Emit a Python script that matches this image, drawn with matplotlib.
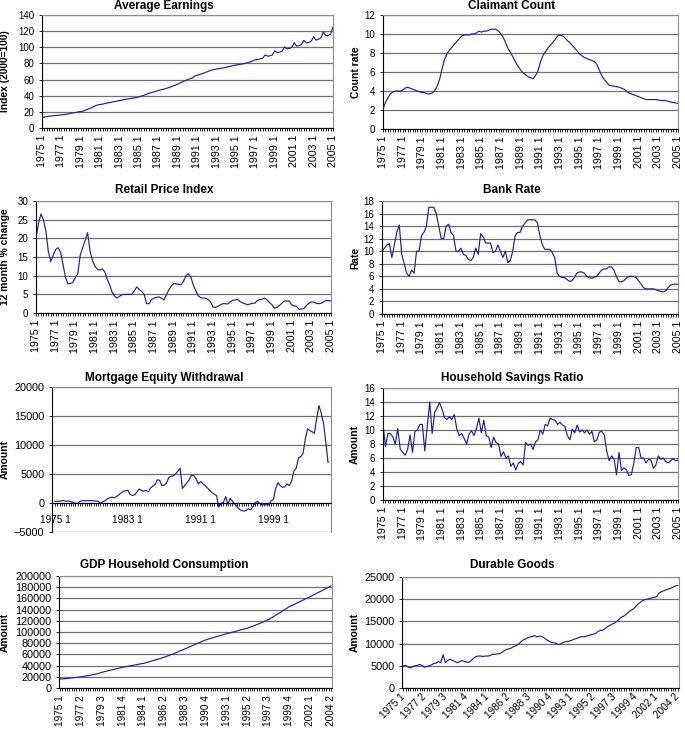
import numpy as np
import matplotlib
matplotlib.use('Agg')
import matplotlib.pyplot as plt
from matplotlib.ticker import MultipleLocator

plt.rcParams['font.family'] = ['Liberation Sans', 'DejaVu Sans']

# quarterly categories 1975 Q1 .. 2005 Q1
quarters = [f"{y} {q}" for y in range(1975, 2006) for q in range(1, 5)][:121]

# Average earnings, index 2000=100
earnings = [
    12.5, 13.5, 14.2, 14.6,  15.0, 15.3, 15.6, 16.0,  16.3, 16.6, 17.0, 17.5,
    18.2, 18.8, 19.4, 20.0,  20.4, 21.0, 22.2, 23.5,  24.6, 26.0, 27.5, 28.6,
    29.2, 29.6, 30.3, 31.0,  31.6, 32.2, 32.8, 33.4,  34.0, 34.6, 35.2, 35.8,
    36.3, 36.8, 37.2, 37.8,  38.6, 39.6, 40.6, 41.6,  43.0, 43.8, 44.6, 45.5,
    46.5, 47.3, 48.0, 48.8,  49.8, 50.9, 52.0, 53.2,  54.5, 55.8, 57.2, 58.6,
    60.0, 61.0, 62.0, 64.5,  65.3, 66.3, 67.3, 68.3,  69.5, 70.8, 71.8, 72.6,
    73.1, 73.6, 74.1, 74.6,  75.3, 76.0, 76.7, 77.4,  78.0, 78.6, 79.0, 79.5,
    80.4, 81.2, 82.0, 83.4,  84.5, 84.8, 85.5, 86.5,  90.5, 89.0, 89.5, 90.5,
    95.5, 93.5, 94.0, 95.0,  100.5, 98.0, 98.5, 100.0,  105.5, 101.5, 102.0, 103.5,
    108.5, 105.5, 106.0, 107.5,  113.0, 109.0, 110.0, 111.5,  119.0, 114.5, 114.5, 116.5,
    125.0]

# Claimant count rate
claimant = [
    2.1, 2.8, 3.3, 3.7,  3.9, 4.0, 4.0, 4.0,  4.1, 4.3, 4.4, 4.3,
    4.2, 4.1, 4.0, 3.9,  3.85, 3.8, 3.7, 3.7,  3.8, 4.0, 4.5, 5.2,
    6.3, 7.3, 7.9, 8.3,  8.6, 8.9, 9.2, 9.5,  9.8, 9.9, 9.9, 9.9,
    10.0, 10.0, 10.1, 10.3,  10.2, 10.3, 10.3, 10.4,  10.5, 10.5, 10.5, 10.3,
    10.0, 9.6, 9.0, 8.4,  8.0, 7.5, 7.0, 6.6,  6.2, 5.9, 5.7, 5.5,
    5.4, 5.3, 5.6, 6.1,  7.0, 7.7, 8.1, 8.5,  8.8, 9.1, 9.4, 9.8,
    9.9, 9.8, 9.6, 9.3,  9.1, 8.8, 8.5, 8.2,  7.9, 7.7, 7.5, 7.4,
    7.3, 7.2, 7.1, 6.8,  6.2, 5.6, 5.2, 4.9,  4.6, 4.55, 4.5, 4.45,
    4.4, 4.3, 4.2, 4.0,  3.8, 3.7, 3.6, 3.5,  3.4, 3.3, 3.2, 3.1,
    3.1, 3.1, 3.1, 3.1,  3.05, 3.0, 3.0, 3.0,  2.9, 2.85, 2.8, 2.75,
    2.7]

# Retail price index, 12 month % change
rpi = [
    20, 24, 26.5, 25, 22, 16.5, 13.8, 15.5, 17, 17.5,
    16.2, 13, 9.5, 7.8, 7.9, 8.2, 9.5, 10.5, 15.5, 17.5,
    19.5, 21.5, 16.5, 14, 12.5, 11.7, 11.5, 11.8, 11, 9,
    7.5, 5.5, 4.5, 4, 4.5, 4.9, 5, 5, 5, 5,
    6, 7, 6.3, 5.8, 5, 2.5, 2.5, 3.6, 4, 4.2,
    4.3, 4, 3.5, 4.8, 6.2, 7.2, 7.9, 7.8, 7.7, 7.6,
    8.5, 10, 10.5, 9.6, 7.5, 6, 4.6, 4.1, 4, 4,
    3.6, 3.0, 1.6, 1.5, 1.8, 2.2, 2.5, 2.5, 2.4, 3,
    3.4, 3.5, 3.6, 3.1, 2.7, 2.5, 2.2, 2.4, 2.6, 2.6,
    3.3, 3.6, 3.7, 4, 3.5, 2.8, 2.2, 1.3, 1.5, 2,
    2.6, 3.2, 3.2, 3.2, 2.2, 1.9, 1.8, 1, 1.1, 1.2,
    2.0, 2.6, 3, 2.9, 2.6, 2.5, 2.6, 3.0, 3.4, 3.3,
    3.2]

# Bank rate
bank_rate = [
    10.0, 10.5, 11.0, 11.2,  9.0, 11.0, 13.0, 14.2,  9.5, 8.0, 6.5, 6.0,
    7.0, 6.5, 10.0, 10.0,  12.5, 13.0, 14.0, 17.0,  17.0, 17.0, 16.0, 14.0,
    12.0, 12.0, 14.0, 14.3,  13.0, 12.5, 10.0, 10.0,  10.5, 9.5, 9.3, 8.7,
    8.5, 9.0, 10.5, 9.5,  12.8, 12.3, 11.3, 11.3,  11.3, 9.8, 10.0, 11.0,
    10.0, 9.0, 10.0, 8.2,  8.5, 10.0, 12.5, 13.0,  13.0, 14.0, 14.5, 15.0,
    15.0, 15.0, 15.0, 14.5,  12.5, 11.0, 10.3, 10.3,  10.3, 9.8, 9.0, 6.5,
    6.0, 5.8, 5.8, 5.5,  5.2, 5.3, 5.8, 6.5,  6.7, 6.7, 6.5, 6.0,
    5.8, 5.7, 5.8, 6.0,  6.5, 7.0, 7.2, 7.2,  7.5, 7.5, 7.0, 6.0,
    5.2, 5.1, 5.3, 5.7,  6.0, 6.0, 6.0, 5.8,  5.3, 4.8, 4.2, 4.0,
    4.0, 4.0, 4.0, 3.9,  3.7, 3.6, 3.5, 3.7,  4.2, 4.6, 4.75, 4.75,
    4.75]

# Mortgage equity withdrawal
mew = [
    300, 300, 300, 400, 400, 300, 350, 200, 100, 0,
    -100, 300, 400, 400, 400, 400, 400, 400, 350, 300,
    -100, 200, 400, 700, 900, 1000, 900, 1100, 1400, 1700,
    2000, 2100, 2200, 1500, 1300, 1400, 1900, 2400, 2200, 2000,
    2200, 1900, 2600, 2900, 3200, 4000, 3900, 3000, 3100, 3400,
    4400, 4600, 4700, 5000, 5500, 6000, 2500, 3000, 3500, 4000,
    4800, 4700, 4200, 3300, 3700, 3300, 3000, 2600, 2200, 1800,
    1500, 1300, -700, -100, 100, 1100, -200, 800, 300, -200,
    -600, -1100, -1300, -1400, -1300, -1000, -1200, -600, 0, 300,
    -100, -300, -300, -300, -300, 400, 600, 2500, 3500, 3000,
    2700, 2800, 3300, 3000, 3800, 5500, 6000, 7800, 8000, 8500,
    11000, 12800, 12500, 12300, 12000, 14500, 16800, 15500, 13800, 10500,
    7000]

# Household savings ratio
savings = [
    10.8, 7.6, 9.5, 9.5, 9.0, 8.0, 10.2, 7.3, 6.8, 6.4,
    7.2, 9.3, 6.8, 9.8, 10.0, 10.8, 10.8, 7.0, 10.5, 14.0,
    9.5, 12.5, 13.2, 13.9, 13.0, 11.8, 11.5, 11.9, 11.5, 12.2,
    10.2, 9.2, 9.5, 8.8, 8.0, 9.4, 9.9, 9.2, 10.2, 11.7,
    9.6, 11.4, 9.2, 9.0, 7.5, 9.0, 8.2, 8.0, 6.2, 6.9,
    6.0, 6.3, 4.8, 5.3, 4.3, 5.2, 5.5, 5.0, 8.2, 7.8,
    8.0, 7.2, 8.3, 8.6, 10.0, 9.4, 10.8, 10.6, 11.7, 11.5,
    11.4, 10.8, 11.1, 10.7, 10.5, 9.2, 8.6, 10.1, 9.6, 10.7,
    9.7, 10.0, 9.6, 10.0, 9.4, 9.8, 8.3, 8.6, 9.7, 9.8,
    9.3, 7.0, 5.6, 6.3, 5.8, 3.6, 6.8, 4.2, 4.6, 4.3,
    3.5, 3.6, 5.2, 7.5, 7.5, 6.0, 6.0, 5.3, 5.8, 5.7,
    4.5, 5.0, 6.3, 5.8, 6.0, 5.5, 5.3, 5.6, 5.9, 5.6,
    5.7]

# GDP household consumption, 1975 Q1 .. 2004 Q2
gdp_consumption = [
    16000, 16300, 16700, 17100, 17500, 18000, 18500, 19000, 19500,
    20000, 20600, 21300, 22000, 22800, 23600, 24400, 25300, 26600,
    28000, 29000, 30000, 31000, 32000, 33000, 34000, 35000, 36000,
    37000, 37800, 38600, 39400, 40100, 40900, 41700, 42500, 43200,
    44000, 45100, 46300, 47500, 48700, 49900, 51100, 52400, 53700,
    55000, 56500, 58000, 59600, 61200, 62900, 64700, 66500, 68300,
    70000, 71800, 73600, 75400, 77200, 79000, 80800, 82600, 84400,
    86000, 87300, 88500, 89700, 90900, 92100, 93300, 94500, 95800,
    97000, 98100, 99200, 100300, 101400, 102500, 103700, 104800, 105900,
    107000, 108500, 110000, 111600, 113200, 114900, 116600, 118400, 120200,
    122000, 124500, 127000, 129500, 132000, 134500, 137200, 139900, 142500,
    145000, 147000, 149000, 151000, 153000, 155000, 157000, 159000, 161000,
    163000, 165100, 167200, 169300, 171400, 173500, 175700, 177800, 179900,
    182000]

# Durable goods, 1975 Q1 .. 2004 Q2
durables = [
    5000, 5100, 4800, 4500, 4800, 5000, 5100, 5300, 5100, 4700,
    4800, 5000, 5200, 5500, 5600, 6000, 5700, 7500, 5700, 6200,
    6500, 6200, 6000, 5700, 5900, 6200, 6000, 5800, 5800, 6200,
    6700, 7100, 7200, 7200, 7100, 7200, 7200, 7300, 7600, 7600,
    7700, 7700, 8000, 8400, 8700, 8800, 9000, 9300, 9500, 9800,
    10300, 10800, 11000, 11300, 11500, 11600, 11800, 11500, 11700, 11600,
    11300, 10900, 10600, 10300, 10200, 10100, 9800, 9900, 10200, 10400,
    10500, 10600, 10800, 11000, 11200, 11400, 11600, 11500, 11700, 11800,
    12000, 12100, 12300, 12700, 13000, 13000, 13400, 13800, 14100, 14400,
    14600, 15000, 15500, 16000, 16200, 16600, 17100, 17500, 17800, 18300,
    18900, 19300, 19700, 19900, 20000, 20200, 20300, 20400, 20600, 21400,
    21700, 21900, 22100, 22300, 22500, 22700, 23000, 23100]

LINE = '#1f1f9e'
GRID = '#707070'
FRAME = '#8c8c8c'

W, H = 685, 729
fig = plt.figure(figsize=(W / 100, H / 100), dpi=100)


def box(l, t, r, b):
    # pixel box -> figure fraction rect
    return [l / W, 1 - b / H, (r - l) / W, (b - t) / H]


def draw_panel(px, values, title, title_xy, ylabel, ylabel_x, ylim, ystep,
               ysize, step, xsize, xlim, rotation=90, zero_axis=False):
    ax = fig.add_axes(box(*px))
    if zero_axis:
        # category axis crosses the value axis at 0 (set before labelling,
        # moving a spine rebuilds the ticks)
        ax.spines['bottom'].set_position(('data', 0))
    x = np.arange(len(values))
    ax.plot(x, values, color=LINE, lw=0.85)
    ax.set_xlim(*xlim)
    ax.set_ylim(*ylim)
    ax.yaxis.set_major_locator(MultipleLocator(ystep))
    ax.yaxis.grid(True, color=GRID, lw=0.9)
    ax.set_axisbelow(True)

    labels = quarters[:len(values)]
    ax.set_xticks(x[::step])
    if rotation == 45:
        ax.set_xticklabels(labels[::step], rotation=45, ha='right',
                           va='center', rotation_mode='anchor')
    else:
        ax.set_xticklabels(labels[::step], rotation=rotation)
    ax.set_xticks(x, minor=True)
    ax.tick_params(axis='x', which='both', length=2.5, width=0.6,
                   pad=6 if zero_axis else 2.5, labelsize=xsize)
    ax.tick_params(axis='y', length=2.5, width=0.6, labelsize=ysize, pad=3)

    for s in ('top', 'right'):
        ax.spines[s].set_color(FRAME)
    for s in ('left', 'bottom'):
        ax.spines[s].set_color('black')
        ax.spines[s].set_linewidth(0.8)

    fig.text(title_xy[0] / W, 1 - title_xy[1] / H, title, ha='center',
             va='center', fontsize=8.5, fontweight='bold')
    yc = (px[1] + px[3]) / 2
    fig.text(ylabel_x / W, 1 - yc / H, ylabel, rotation=90, ha='center',
             va='center', fontsize=7.4, fontweight='bold')
    return ax


draw_panel((42, 15, 333, 128), earnings, 'Average Earnings', (164, 6),
           'Index (2000=100)', 5, (0, 140), 20, 7, 8, 7.7, (0, 120))
draw_panel((383, 15, 678, 129), claimant, 'Claimant Count', (512, 6),
           'Count rate', 356, (0, 12), 2, 7, 8, 7.7, (0, 120))
draw_panel((36, 201, 331, 313), rpi, 'Retail Price Index', (164, 190),
           '12 month % change', 5, (0, 30), 5, 7, 8, 7.7, (0, 120))
draw_panel((382, 201, 678, 314), bank_rate, 'Bank Rate', (512, 190),
           'Rate', 355, (0, 18), 2, 7, 8, 7.7, (0, 120))
draw_panel((52, 387, 331, 532), mew, 'Mortgage Equity Withdrawal',
           (164, 378), 'Amount', 5, (-5000, 20000), 5000, 7.8, 32,
           7.2, (-1.3, 121.3), rotation=0, zero_axis=True)
draw_panel((383, 388, 678, 500), savings, 'Household Savings Ratio', (512, 378),
           'Amount', 355, (0, 16), 2, 7, 8, 7.7, (0, 120))
draw_panel((59, 576, 332, 688), gdp_consumption, 'GDP Household Consumption',
           (164, 565), 'Amount', 5, (0, 200000), 20000, 7.8, 9, 7.2,
           (-0.5, 117.5))
draw_panel((402, 577, 679, 688), durables, 'Durable Goods', (512, 565),
           'Amount', 355, (0, 25000), 5000, 7.8, 9, 7.2, (-0.5, 117.5),
           rotation=45)

fig.savefig('out.png', dpi=100)
